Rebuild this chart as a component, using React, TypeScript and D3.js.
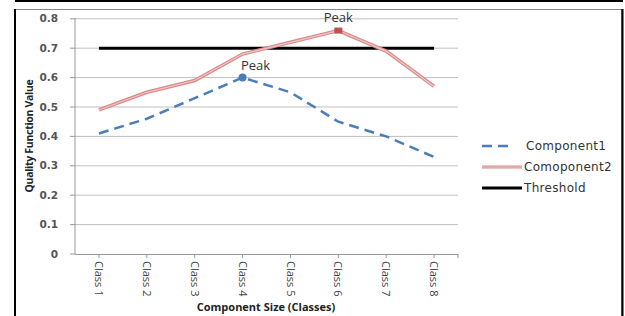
import React from "react";
import * as d3 from "d3";

const categories = ["Class 1", "Class 2", "Class 3", "Class 4", "Class 5", "Class 6", "Class 7", "Class 8"];
const component1 = [0.41, 0.46, 0.53, 0.6, 0.55, 0.45, 0.4, 0.33];
const component2 = [0.49, 0.55, 0.59, 0.68, 0.72, 0.76, 0.69, 0.57];
const threshold = [0.7, 0.7, 0.7, 0.7, 0.7, 0.7, 0.7, 0.7];
const yTicks = [0, 0.1, 0.2, 0.3, 0.4, 0.5, 0.6, 0.7, 0.8];
const seriesNames = ["Component1", "Comoponent2", "Threshold"];

export default function App() {
  const W = 625, H = 316;
  const x = d3.scaleBand<string>().domain(categories).range([75, 458]);
  const cx = (c: string) => (x(c) as number) + x.bandwidth() / 2;
  const y = d3.scaleLinear().domain([0, 0.8]).range([254, 18.8]);
  const line = d3.line<number>().x((_, i) => cx(categories[i])).y((d) => y(d));
  const peak1 = d3.maxIndex(component1);
  const peak2 = d3.maxIndex(component2);
  const blue = "#4a7ebb";
  const numFont = "'DejaVu Sans', Verdana, sans-serif";
  const narrow = "'Open Sans', 'Liberation Sans', sans-serif";
  const legendY = [146, 167, 188];
  return (
    <svg width={W} height={H} style={{ position: "absolute", left: 0, top: 0 }}>
      <rect x={0} y={0} width={W} height={H} fill="#fff" />
      {/* frame */}
      <line x1={15} x2={623} y1={1} y2={1} stroke="#000" strokeWidth={2} />
      <rect x={15.5} y={9.5} width={606} height={320} fill="none" stroke="#888" strokeWidth={1} />
      <line x1={15} x2={15} y1={9} y2={316} stroke="#000" strokeWidth={2} />
      <line x1={622.5} x2={622.5} y1={9} y2={316} stroke="#000" strokeWidth={2} />
      {/* gridlines */}
      {yTicks.map((t) => (
        <g key={t}>
          {t > 0 && <line x1={75} x2={458} y1={y(t)} y2={y(t)} stroke="#bfbfbf" strokeWidth={1} />}
          <line x1={70} x2={75} y1={y(t)} y2={y(t)} stroke="#999" strokeWidth={1} />
          <text x={58} y={y(t)} dy="0.35em" textAnchor="end" fontFamily={numFont} fontWeight="bold" fontSize={10.5} fill="#555">
            {t === 0 ? "0" : t.toFixed(1)}
          </text>
        </g>
      ))}
      {/* axes */}
      <line x1={75} x2={75} y1={18} y2={254} stroke="#999" strokeWidth={1} />
      <line x1={75} x2={458} y1={254.5} y2={254.5} stroke="#999" strokeWidth={1} />
      {categories.map((c) => (
        <g key={c}>
          <line x1={cx(c)} x2={cx(c)} y1={254} y2={258} stroke="#999" strokeWidth={1} />
          <text transform={`translate(${cx(c)},261) rotate(90)`} dy="0.35em" fontFamily={narrow} fontSize={11} fill="#444">
            {c}
          </text>
        </g>
      ))}
      <line x1={458} x2={458} y1={254} y2={258} stroke="#999" strokeWidth={1} />
      {/* axis titles */}
      <text transform="translate(29,136) rotate(-90)" textAnchor="middle" dy="0.35em" fontFamily={narrow} fontWeight="bold" fontSize={10.5} fill="#222" letterSpacing={-0.3}>
        Quality Function Value
      </text>
      <text x={266} y={307} textAnchor="middle" dy="0.35em" fontFamily={narrow} fontWeight="bold" fontSize={11} fill="#222">
        Component Size (Classes)
      </text>
      {/* series */}
      <path d={line(threshold) as string} fill="none" stroke="#000" strokeWidth={3} />
      <path d={line(component2) as string} fill="none" stroke="#d98a8a" strokeWidth={3.5} />
      <path d={line(component2) as string} fill="none" stroke="#f3c4c4" strokeWidth={1.2} />
      <path d={line(component1) as string} fill="none" stroke={blue} strokeWidth={2.5} strokeDasharray="10 6" />
      <circle cx={cx(categories[peak1])} cy={y(component1[peak1])} r={4} fill={blue} />
      <rect x={cx(categories[peak2]) - 4} y={y(component2[peak2]) - 3} width={8} height={6} fill="#c0504d" />
      <text x={cx(categories[peak1]) + 13} y={y(component1[peak1]) - 7.5} textAnchor="middle" fontFamily={narrow} fontSize={13} fill="#333">Peak</text>
      <text x={cx(categories[peak2])} y={y(component2[peak2]) - 8.5} textAnchor="middle" fontFamily={narrow} fontSize={13} fill="#333">Peak</text>
      {/* legend */}
      <line x1={482} x2={513} y1={legendY[0]} y2={legendY[0]} stroke={blue} strokeWidth={2.5} strokeDasharray="10 6" />
      <line x1={482} x2={522} y1={legendY[1]} y2={legendY[1]} stroke="#d98a8a" strokeWidth={3} />
      <line x1={482} x2={522} y1={legendY[1]} y2={legendY[1]} stroke="#f3c4c4" strokeWidth={1} />
      <line x1={482} x2={522} y1={legendY[2]} y2={legendY[2]} stroke="#000" strokeWidth={3} />
      {seriesNames.map((s, i) => (
        <text key={s} x={i === 0 ? 526 : 524} y={legendY[i]} dy="0.35em" fontFamily={numFont} fontSize={12} fill="#333" letterSpacing={0.3}>
          {s}
        </text>
      ))}
    </svg>
  );
}
